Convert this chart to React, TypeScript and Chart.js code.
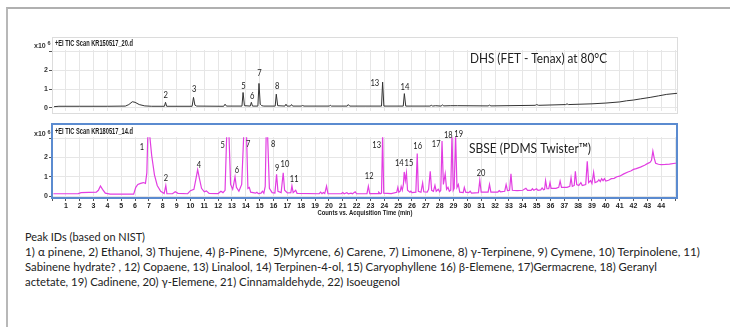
import React, { useEffect, useLayoutEffect, useRef } from 'react';
import { Chart, registerables } from 'chart.js';

Chart.register(...registerables);

type Pt = [number, number];
type Lbl = [string, number, number];

// ---------- data ----------
const TIME_MIN = 0;
const TIME_MAX = 45.2;
const xTickFirst = 1;
const xTickLast = 44;
const yTickValues = [0, 1, 2, 3];
const yTickLabels = ['0', '1', '2', ''];

const dhsHeader = '+EI TIC Scan KR150517_20.d';
const sbseHeader = '+EI TIC Scan KR180517_14.d';
const dhsTitle = 'DHS (FET - Tenax) at 80°C';
const sbseTitle = 'SBSE (PDMS Twister™)';
const xAxisTitle = 'Counts vs. Acquisition Time (min)';

// DHS trace: [time (min), counts x10^6]
const dhsTrace: Pt[] = [
  [0.15, 0.07], [0.5, 0.09], [2, 0.09], [4, 0.09], [5.3, 0.1], [5.55, 0.18], [5.8, 0.33], [6.0, 0.3],
  [6.3, 0.18], [6.7, 0.11], [7.2, 0.09], [8.12, 0.09], [8.2, 0.3], [8.28, 0.09], [10.12, 0.09],
  [10.22, 0.56], [10.32, 0.15], [10.45, 0.1], [12.4, 0.09], [12.5, 0.2], [12.6, 0.1], [13.72, 0.1],
  [13.8, 0.82], [13.9, 0.12], [14.32, 0.1], [14.4, 0.3], [14.48, 0.1], [14.87, 0.1], [14.95, 1.3],
  [15.04, 0.2], [15.15, 0.12], [15.3, 0.1], [16.12, 0.1], [16.2, 0.73], [16.3, 0.12], [16.82, 0.1],
  [16.9, 0.2], [16.98, 0.1], [17.22, 0.1], [17.3, 0.18], [17.38, 0.1], [18.0, 0.1], [18.1, 0.13],
  [18.2, 0.1], [20.02, 0.1], [20.1, 0.14], [20.18, 0.1], [21.32, 0.1], [21.4, 0.18], [21.5, 0.1],
  [23.8, 0.1], [23.88, 1.37], [23.97, 0.1], [25.37, 0.1], [25.45, 0.76], [25.55, 0.1], [27.3, 0.1],
  [27.4, 0.14], [27.5, 0.1], [27.7, 0.12], [28.1, 0.1], [28.2, 0.16], [28.3, 0.11], [28.8, 0.12],
  [29.3, 0.12], [31.5, 0.11], [31.6, 0.15], [31.7, 0.11], [34.9, 0.14], [35.0, 0.18], [35.15, 0.14],
  [37.1, 0.18], [37.2, 0.22], [37.3, 0.18], [39, 0.22], [40, 0.26], [41, 0.32], [41.5, 0.38],
  [42, 0.42], [42.5, 0.48], [43.2, 0.56], [43.8, 0.64], [44.4, 0.72], [45.2, 0.78],
];

// SBSE trace: [time (min), counts x10^6]
const sbseTrace: Pt[] = [
  [0.1, 0.12], [1.0, 0.12], [1.9, 0.13], [2.1, 0.18], [3.2, 0.2], [3.35, 0.3], [3.5, 0.52], [3.65, 0.35],
  [3.85, 0.15], [4.2, 0.1], [5.9, 0.1], [6.05, 0.45], [6.2, 0.6], [6.4, 0.66], [6.6, 0.7], [6.75, 0.66],
  [6.85, 1.2], [6.92, 3.2], [7.05, 3.2], [7.2, 2.1], [7.4, 1.1], [7.6, 0.55], [7.85, 0.25], [8.1, 0.13],
  [8.15, 0.13], [8.22, 0.55], [8.3, 0.13], [8.7, 0.12], [8.9, 0.22], [9.1, 0.14], [9.8, 0.12],
  [10.0, 0.28], [10.25, 0.35], [10.4, 0.9], [10.52, 1.37], [10.65, 0.9], [10.8, 0.4], [11.0, 0.22],
  [11.15, 0.27], [11.35, 0.14], [12.0, 0.13], [12.2, 0.25], [12.35, 0.18], [12.5, 0.3], [12.62, 3.2],
  [12.78, 3.2], [12.9, 0.6], [13.05, 0.35], [13.12, 0.6], [13.22, 0.99], [13.32, 0.45], [13.5, 0.25],
  [13.7, 0.6], [13.85, 3.2], [14.05, 3.2], [14.15, 0.4], [14.25, 0.45], [14.35, 0.2], [14.7, 0.15],
  [14.8, 0.2], [14.9, 0.13], [15.1, 0.15], [15.2, 0.25], [15.3, 0.15], [15.4, 0.5], [15.47, 3.2],
  [15.57, 3.2], [15.7, 0.4], [15.9, 0.18], [16.1, 0.16], [16.22, 1.13], [16.32, 0.25], [16.55, 0.18],
  [16.7, 1.21], [16.8, 0.3], [17.0, 0.16], [17.25, 0.18], [17.33, 0.53], [17.42, 0.18], [17.6, 0.3],
  [17.7, 0.14], [19.3, 0.12], [19.4, 0.2], [19.5, 0.12], [19.6, 0.18], [19.7, 0.13], [19.83, 0.52],
  [19.93, 0.13], [20.9, 0.12], [21.0, 0.18], [21.1, 0.12], [21.3, 0.17], [21.4, 0.12], [21.6, 0.15],
  [21.7, 0.12], [21.9, 0.22], [22.0, 0.12], [22.75, 0.13], [22.85, 0.51], [22.95, 0.13], [23.55, 0.13],
  [23.6, 0.2], [23.7, 0.12], [23.8, 0.15], [23.88, 3.2], [23.96, 0.15], [24.5, 0.13], [24.9, 0.2],
  [24.98, 0.45], [25.05, 0.2], [25.15, 0.25], [25.22, 0.5], [25.3, 0.3], [25.38, 0.6], [25.44, 1.25],
  [25.52, 0.8], [25.6, 1.2], [25.68, 0.3], [25.85, 0.2], [25.92, 0.25], [26.0, 0.18], [26.28, 0.2],
  [26.38, 2.2], [26.46, 0.25], [26.65, 0.2], [26.77, 0.68], [26.85, 0.22], [27.1, 0.2], [27.2, 0.35],
  [27.32, 1.28], [27.42, 0.3], [27.55, 0.25], [27.66, 0.55], [27.75, 0.25], [27.9, 0.35], [28.0, 0.22],
  [28.08, 0.3], [28.17, 2.85], [28.27, 0.6], [28.4, 1.16], [28.5, 0.35], [28.6, 0.45], [28.7, 0.25],
  [28.8, 0.3], [28.89, 3.2], [28.98, 0.3], [29.05, 0.4], [29.15, 3.2], [29.25, 0.45], [29.35, 0.6],
  [29.45, 0.2], [29.7, 0.18], [29.78, 0.45], [29.88, 0.2], [30.1, 0.18], [30.2, 0.25], [30.3, 0.15],
  [30.8, 0.18], [30.9, 0.82], [31.0, 0.2], [31.5, 0.2], [31.6, 0.6], [31.7, 0.2], [32.2, 0.2],
  [32.3, 0.28], [32.4, 0.22], [32.7, 0.25], [32.8, 0.6], [32.9, 0.28], [33.05, 0.3], [33.15, 1.15],
  [33.25, 0.3], [33.6, 0.28], [34.0, 0.3], [34.23, 0.4], [34.35, 0.3], [34.6, 0.3], [34.7, 0.38],
  [34.8, 0.3], [35.0, 0.38], [35.1, 0.3], [35.3, 0.32], [35.4, 0.42], [35.5, 0.33], [35.58, 0.35],
  [35.65, 0.8], [35.75, 0.38], [35.88, 0.38], [35.97, 0.7], [36.05, 0.4], [36.4, 0.4], [36.6, 0.45],
  [36.7, 0.78], [36.8, 0.45], [37.2, 0.45], [37.4, 0.5], [37.49, 0.95], [37.58, 0.5], [37.72, 0.55],
  [37.8, 1.28], [37.9, 0.6], [38.05, 0.55], [38.2, 0.7], [38.3, 0.55], [38.55, 0.6], [38.66, 1.8],
  [38.76, 0.7], [38.9, 0.8], [39.0, 0.65], [39.12, 1.23], [39.22, 0.7], [39.4, 0.75], [39.5, 0.85],
  [39.6, 0.75], [39.7, 0.9], [39.8, 0.8], [39.9, 0.9], [40.0, 0.78], [40.2, 0.82], [40.4, 0.9],
  [40.6, 0.92], [40.8, 1.0], [41.0, 1.03], [41.3, 1.15], [41.6, 1.25], [41.8, 1.3], [42.0, 1.38],
  [42.2, 1.42], [42.5, 1.5], [42.8, 1.6], [43.0, 1.68], [43.2, 1.75], [43.3, 1.85], [43.4, 2.33],
  [43.5, 1.95], [43.6, 1.7], [43.8, 1.65], [44.0, 1.63], [44.3, 1.64], [44.6, 1.66], [45.0, 1.7],
  [45.2, 1.7],
];

// peak annotations: [label, time, height]
const dhsPeakLabels: Lbl[] = [
  ['2', 8.22, 0.68], ['3', 10.27, 0.99], ['5', 13.83, 1.14], ['6', 14.46, 0.64],
  ['7', 14.99, 1.86], ['8', 16.27, 1.14], ['13', 23.32, 1.3], ['14', 25.49, 1.11],
];
const sbsePeakLabels: Lbl[] = [
  ['1', 6.49, 2.54], ['2', 8.22, 0.95], ['4', 10.61, 1.64], ['5', 12.32, 2.68], ['6', 13.35, 1.38],
  ['7', 14.17, 2.69], ['8', 15.98, 2.69], ['9', 16.26, 1.49], ['10', 16.82, 1.69], ['11', 17.49, 0.92],
  ['12', 22.91, 1.04], ['13', 23.45, 2.68], ['14', 25.08, 1.73], ['15', 25.78, 1.73], ['16', 26.41, 2.59],
  ['17', 27.75, 2.73], ['18', 28.62, 3.2], ['19', 29.37, 3.23], ['20', 30.99, 1.21],
];

const peakIdLines = [
  'Peak IDs (based on NIST)',
  '1) α pinene, 2) Ethanol, 3) Thujene, 4) β-Pinene,  5)Myrcene, 6) Carene, 7) Limonene, 8) γ-Terpinene, 9) Cymene, 10) Terpinolene, 11)',
  'Sabinene hydrate? , 12) Copaene, 13) Linalool, 14) Terpinen-4-ol, 15) Caryophyllene 16) β-Elemene, 17)Germacrene, 18) Geranyl',
  'actetate, 19) Cadinene, 20) γ-Elemene, 21) Cinnamaldehyde, 22) Isoeugenol',
];

// ---------- layout ----------
const CANVAS_W = 690;
const PLOT_LEFT = 52;
const PLOT_RIGHT = 677.8;
const SMALL_FONT = '"Liberation Sans", Arial, sans-serif';

function drawScaled(
  ctx: CanvasRenderingContext2D, text: string, x: number, y: number,
  font: string, width: number, color: string, center = false,
) {
  ctx.save();
  ctx.font = font;
  ctx.fillStyle = color;
  ctx.textBaseline = 'middle';
  ctx.textAlign = 'left';
  const w = ctx.measureText(text).width || 1;
  const s = width / w;
  ctx.translate(center ? x - width / 2 : x, y);
  ctx.scale(s, 1);
  ctx.fillText(text, 0, 0);
  ctx.restore();
}

function drawSqueezed(
  ctx: CanvasRenderingContext2D, text: string, x: number, y: number,
  font: string, sx: number, color: string,
) {
  ctx.save();
  ctx.font = font;
  ctx.fillStyle = color;
  ctx.textBaseline = 'middle';
  ctx.textAlign = 'center';
  ctx.translate(x, y);
  ctx.scale(sx, 1);
  ctx.fillText(text, 0, 0);
  ctx.restore();
}

interface PanelProps {
  top: number;
  height: number;
  trace: Pt[];
  color: string;
  lineWidth: number;
  yMin: number;
  yMax: number;
  chartTop: number;
  xAxisHeight: number;
  showXLabels: boolean;
  yBorder: boolean;
  labels: Lbl[];
  labelFont: string;
  labelScale: number;
  decor: (ctx: CanvasRenderingContext2D, chart: any) => void;
}

function Panel(p: PanelProps) {
  const ref = useRef<HTMLCanvasElement>(null);
  useEffect(() => {
    if (!ref.current) return;
    const intFilter = (s: any) => {
      s.ticks = s.ticks.filter((t: any) => Number.isInteger(t.value));
    };
    const chart = new Chart(ref.current, {
      type: 'line',
      data: {
        datasets: [{
          data: p.trace.map(([x, y]) => ({ x, y })),
          borderColor: p.color,
          borderWidth: p.lineWidth,
          pointRadius: 0,
          tension: 0,
          fill: false,
        }],
      },
      options: {
        animation: false,
        responsive: false,
        devicePixelRatio: 1,
        layout: { padding: { left: 0, right: CANVAS_W - PLOT_RIGHT, top: p.chartTop, bottom: 0 } },
        plugins: { legend: { display: false }, tooltip: { enabled: false } },
        scales: {
          x: {
            type: 'linear',
            min: TIME_MIN,
            max: TIME_MAX,
            afterBuildTicks: intFilter,
            afterFit: (s: any) => { s.height = p.xAxisHeight; },
            ticks: {
              stepSize: 1,
              includeBounds: false,
              autoSkip: false,
              maxRotation: 0,
              display: p.showXLabels,
              padding: 1,
              color: '#222',
              font: { family: SMALL_FONT, size: 7, weight: 'bold' },
              callback: (v: any) => (v >= xTickFirst && v <= xTickLast ? String(v) : ''),
            },
            grid: { color: '#e6e6e6', tickColor: '#555', tickLength: 3, drawTicks: p.showXLabels },
            border: { display: false },
          },
          y: {
            min: p.yMin,
            max: p.yMax,
            afterBuildTicks: (s: any) => { s.ticks = yTickValues.map((v) => ({ value: v })); },
            afterFit: (s: any) => { s.width = PLOT_LEFT; },
            ticks: {
              stepSize: 1,
              includeBounds: false,
              padding: 1,
              color: '#333',
              font: { family: SMALL_FONT, size: 7, weight: 'bold' },
              callback: (v: any) => {
                const i = yTickValues.indexOf(v);
                return i >= 0 ? yTickLabels[i] : '';
              },
            },
            grid: { color: '#e6e6e6', tickColor: '#555', tickLength: 3 },
            border: { display: p.yBorder, color: '#777' },
          },
        },
      } as any,
      plugins: [{
        id: 'decor',
        afterDraw(c: any) {
          const ctx = c.ctx as CanvasRenderingContext2D;
          p.decor(ctx, c);
          for (const [t, x, y] of p.labels) {
            drawSqueezed(ctx, t, c.scales.x.getPixelForValue(x), c.scales.y.getPixelForValue(y),
              p.labelFont, p.labelScale, '#222');
          }
        },
      }],
    });
    return () => chart.destroy();
  }, []);
  return (
    <canvas
      ref={ref}
      width={CANVAS_W}
      height={p.height}
      style={{ position: 'absolute', left: 0, top: p.top, width: CANVAS_W, height: p.height }}
    />
  );
}

function drawX10(ctx: CanvasRenderingContext2D, y: number) {
  ctx.save();
  ctx.fillStyle = '#333';
  ctx.textBaseline = 'middle';
  ctx.textAlign = 'left';
  ctx.font = `bold 7px ${SMALL_FONT}`;
  ctx.fillText('x10', 34, y + 1.5);
  ctx.font = `bold 5.5px ${SMALL_FONT}`;
  ctx.fillText('6', 47.5, y - 1);
  ctx.restore();
}

function FitLine({ text, left, centerY, width }: { text: string; left: number; centerY: number; width: number }) {
  const ref = useRef<HTMLDivElement>(null);
  useLayoutEffect(() => {
    const el = ref.current;
    if (!el) return;
    el.style.transform = 'none';
    const w = el.getBoundingClientRect().width || 1;
    el.style.transform = `scaleX(${width / w})`;
  }, [text, width]);
  return (
    <div
      ref={ref}
      style={{
        position: 'absolute', left, top: centerY - 7, height: 14, lineHeight: '14px',
        whiteSpace: 'pre', fontFamily: 'Lato, "Open Sans", sans-serif', fontSize: 11.5,
        color: '#222', transformOrigin: '0 50%',
      }}
    >
      {text}
    </div>
  );
}

const lineCenters = [237, 252, 267, 282];
const lineWidths = [120, 675, 632, 375];

export default function App() {
  const topDecor = (ctx: CanvasRenderingContext2D) => {
    ctx.save();
    ctx.strokeStyle = '#dcdcdc';
    ctx.lineWidth = 1;
    ctx.strokeRect(52.5, 7.5, 625, 76);
    ctx.restore();
    drawScaled(ctx, dhsHeader, 55, 13.5, `bold 9px ${SMALL_FONT}`, 78, '#222');
    drawX10(ctx, 14.5);
    drawScaled(ctx, dhsTitle, 470, 29, '13px Lato, sans-serif', 137, '#222');
  };
  const bottomDecor = (ctx: CanvasRenderingContext2D) => {
    ctx.save();
    ctx.strokeStyle = '#5b8bd0';
    ctx.lineWidth = 2;
    ctx.strokeRect(52, 6, 625, 74);
    ctx.restore();
    drawScaled(ctx, sbseHeader, 55, 13.5, `bold 9px ${SMALL_FONT}`, 78, '#222');
    drawX10(ctx, 15);
    drawScaled(ctx, sbseTitle, 469, 30, '14px Lato, sans-serif', 122, '#222');
    drawScaled(ctx, xAxisTitle, (PLOT_LEFT + PLOT_RIGHT) / 2, 94.5, `bold 8px ${SMALL_FONT}`, 95, '#222', true);
  };
  return (
    <div style={{ position: 'fixed', left: 0, top: 0, width: 730, height: 327, background: '#fff', overflow: 'hidden' }}>
      <div style={{ position: 'absolute', left: 6, top: 7, width: 730, height: 330, borderTop: '2px solid #b0b0b0', borderLeft: '2px solid #b8b8b8' }} />
      <Panel
        top={30} height={86} trace={dhsTrace} color="#333" lineWidth={1} yMin={-0.15} yMax={3.07}
        chartTop={20} xAxisHeight={4} showXLabels={false} yBorder={true}
        labels={dhsPeakLabels} labelFont={`9px Lato, ${SMALL_FONT}`} labelScale={0.85} decor={topDecor}
      />
      <Panel
        top={118} height={105} trace={sbseTrace} color="#e23ee2" lineWidth={1.2} yMin={-0.1} yMax={3.05}
        chartTop={19.2} xAxisHeight={25} showXLabels={true} yBorder={false}
        labels={sbsePeakLabels} labelFont={`10px Lato, ${SMALL_FONT}`} labelScale={0.75} decor={bottomDecor}
      />
      {peakIdLines.map((t, i) => (
        <FitLine key={i} text={t} left={25} centerY={lineCenters[i]} width={lineWidths[i]} />
      ))}
    </div>
  );
}
